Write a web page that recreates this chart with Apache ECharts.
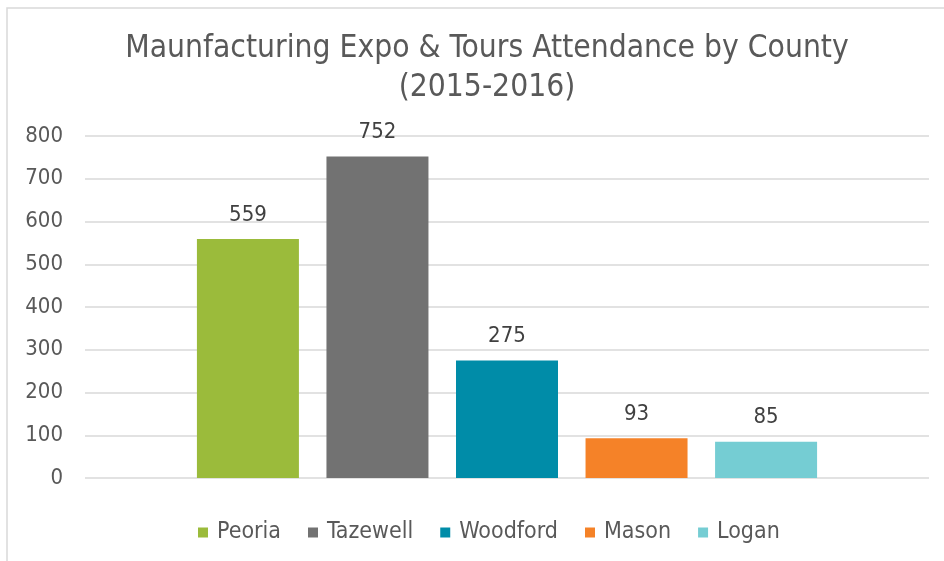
<!DOCTYPE html>
<html>
<head>
<meta charset="utf-8">
<script src="https://cdn.jsdelivr.net/npm/echarts@6/dist/echarts.min.js"></script>
<style>
html, body { margin: 0; padding: 0; background: #fff; }
#chart { width: 944px; height: 561px; }
</style>
</head>
<body>
<div id="chart"></div>
<script>
var counties = ['Peoria', 'Tazewell', 'Woodford', 'Mason', 'Logan'];
var attendance = [559, 752, 275, 93, 85];
var colors = ['#9BBB3B', '#727272', '#008CA8', '#F58228', '#75CDD3'];
var yTicks = { min: 0, max: 800, interval: 100 };

var font = 'DejaVu Sans Condensed';
var myChart = echarts.init(document.getElementById('chart'));

var series = counties.map(function (name, i) {
    return {
        name: name,
        type: 'bar',
        data: [attendance[i]],
        barWidth: 102,
        barGap: '27%',
        itemStyle: { color: colors[i] },
        label: {
            show: true,
            position: 'top',
            distance: 13,
            fontFamily: font,
            fontSize: 22,
            color: '#404040'
        }
    };
});

var option = {
    animation: false,
    backgroundColor: '#fff',
    title: {
        text: 'Maunfacturing Expo & Tours Attendance by County\n(2015-2016)',
        left: 482,
        top: 24,
        textAlign: 'center',
        textStyle: {
            fontFamily: font,
            fontWeight: 'normal',
            fontSize: 31.5,
            lineHeight: 39,
            color: '#595959'
        }
    },
    legend: {
        top: 516,
        left: 193,
        itemWidth: 10,
        itemHeight: 10,
        itemGap: 27,
        icon: 'rect',
        textStyle: { fontFamily: font, fontSize: 23, color: '#595959', padding: [0, 0, 0, 4] },
        data: counties
    },
    grid: {
        left: 85,
        right: 15,
        top: 136,
        bottom: 83
    },
    xAxis: {
        type: 'category',
        data: [''],
        axisLine: { show: false },
        axisTick: { show: false },
        axisLabel: { show: false }
    },
    yAxis: {
        type: 'value',
        min: yTicks.min,
        max: yTicks.max,
        interval: yTicks.interval,
        axisLine: { show: false },
        axisTick: { show: false },
        axisLabel: {
            fontFamily: font,
            fontSize: 22,
            color: '#595959',
            margin: 22
        },
        splitLine: { lineStyle: { color: '#d9d9d9', width: 1.5 } }
    },
    graphic: [{
        type: 'rect',
        shape: { x: 7, y: 8, width: 950, height: 600 },
        style: { fill: 'none', stroke: '#d9d9d9', lineWidth: 1.5 },
        silent: true
    }],
    series: series
};
myChart.setOption(option);
</script>
</body>
</html>
